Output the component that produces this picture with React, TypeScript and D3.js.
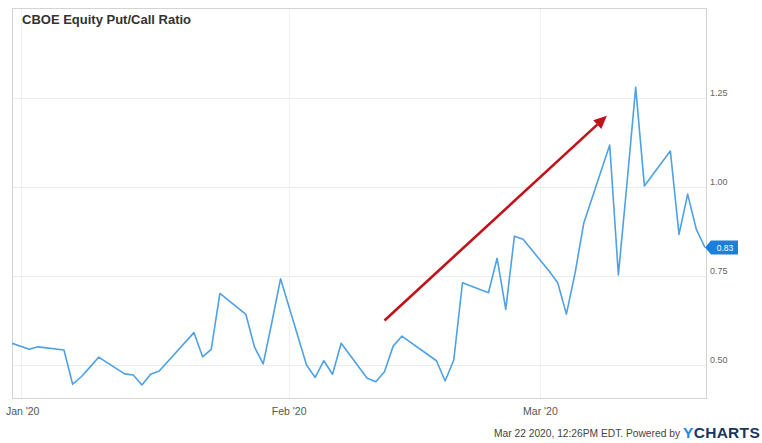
import React from "react";
import * as d3 from "d3";

// trading days Dec 31 2019 -> Mar 20 2020
const dates = [
  "2019-12-31", "2020-01-02", "2020-01-03", "2020-01-06", "2020-01-07", "2020-01-08",
  "2020-01-09", "2020-01-10", "2020-01-13", "2020-01-14", "2020-01-15", "2020-01-16",
  "2020-01-17", "2020-01-21", "2020-01-22", "2020-01-23", "2020-01-24", "2020-01-27",
  "2020-01-28", "2020-01-29", "2020-01-30", "2020-01-31", "2020-02-03", "2020-02-04",
  "2020-02-05", "2020-02-06", "2020-02-07", "2020-02-10", "2020-02-11", "2020-02-12",
  "2020-02-13", "2020-02-14", "2020-02-18", "2020-02-19", "2020-02-20", "2020-02-21",
  "2020-02-24", "2020-02-25", "2020-02-26", "2020-02-27", "2020-02-28", "2020-03-02",
  "2020-03-03", "2020-03-04", "2020-03-05", "2020-03-06", "2020-03-09", "2020-03-10",
  "2020-03-11", "2020-03-12", "2020-03-13", "2020-03-16", "2020-03-17", "2020-03-18",
  "2020-03-19", "2020-03-20",
];

const ratios = [
  0.561, 0.544, 0.551, 0.542, 0.446, 0.467,
  0.494, 0.522, 0.475, 0.472, 0.444, 0.474,
  0.483, 0.591, 0.523, 0.544, 0.701, 0.642,
  0.55, 0.503, 0.62, 0.742, 0.5, 0.465,
  0.512, 0.474, 0.561, 0.463, 0.453, 0.481,
  0.553, 0.581, 0.512, 0.455, 0.514, 0.731,
  0.703, 0.8, 0.656, 0.862, 0.853, 0.764,
  0.731, 0.643, 0.758, 0.898, 1.118, 0.753,
  1.012, 1.28, 1.003, 1.101, 0.867, 0.98,
  0.881, 0.83,
];

const yTicks = [0.5, 0.75, 1.0, 1.25];
const xTickDates = ["2020-01-01", "2020-02-01", "2020-03-01"];
const xTickLabels = ["Jan '20", "Feb '20", "Mar '20"];

// trend arrow, in data terms
const arrowDates = ["2020-02-12T00:00", "2020-03-08T16:00"];
const arrowValues = [0.625, 1.2];

const parse = (s: string) => new Date(s.length > 10 ? s : s + "T00:00");

export default function App() {
  const width = 762;
  const height = 443;
  const frame = { left: 12, top: 8, right: 706, bottom: 398 };

  const x = d3
    .scaleTime()
    .domain([parse(dates[0]), parse(dates[dates.length - 1])])
    .range([frame.left, frame.right - 1]);

  const y = d3
    .scaleLinear()
    .domain([0.4073, 1.5028])
    .range([frame.bottom, frame.top]);

  const points = dates.map((d, i) => ({ date: parse(d), value: ratios[i] }));

  const line = d3
    .line<any>()
    .x((d) => x(d.date))
    .y((d) => y(d.value));

  const last = points[points.length - 1];

  // arrow geometry
  const ax0 = x(parse(arrowDates[0]));
  const ay0 = y(arrowValues[0]);
  const ax1 = x(parse(arrowDates[1]));
  const ay1 = y(arrowValues[1]);
  const ang = Math.atan2(ay1 - ay0, ax1 - ax0);
  const headLen = 13;
  const headW = 6;
  const bx = ax1 - headLen * Math.cos(ang);
  const by = ay1 - headLen * Math.sin(ang);
  const head = [
    [ax1, ay1],
    [bx + headW * Math.sin(ang), by - headW * Math.cos(ang)],
    [bx - headW * Math.sin(ang), by + headW * Math.cos(ang)],
  ];

  const font = "'Liberation Sans', Arial, Helvetica, sans-serif";

  const lastY = y(last.value);

  return (
    <svg
      width={width}
      height={height}
      style={{ position: "absolute", left: 0, top: 0, fontFamily: font }}
    >
      <rect width={width} height={height} fill="#fff" />
      <defs>
        <clipPath id="plot-clip">
          <rect
            x={frame.left}
            y={frame.top}
            width={frame.right - frame.left}
            height={frame.bottom - frame.top}
          />
        </clipPath>
      </defs>

      {/* grid */}
      <g className="grid">
        {yTicks.map((t) => (
          <line
            key={t}
            x1={frame.left}
            x2={frame.right}
            y1={Math.round(y(t)) + 0.5}
            y2={Math.round(y(t)) + 0.5}
            stroke="#ececec"
          />
        ))}
        {xTickDates.map((t) => (
          <line
            key={t}
            x1={Math.round(x(parse(t))) + 0.5}
            x2={Math.round(x(parse(t))) + 0.5}
            y1={frame.top}
            y2={frame.bottom}
            stroke="#f0f0f0"
          />
        ))}
      </g>

      {/* frame */}
      <rect
        x={frame.left + 0.5}
        y={frame.top + 0.5}
        width={frame.right - frame.left}
        height={frame.bottom - frame.top}
        fill="none"
        stroke="#d4d4d4"
      />

      <text x={22} y={24} fontSize={13} fontWeight="bold" fill="#333">
        CBOE Equity Put/Call Ratio
      </text>

      {/* series */}
      <path
        d={line(points) || ""}
        fill="none"
        stroke="#4ea1e4"
        strokeWidth={1.6}
        strokeLinejoin="round"
        clipPath="url(#plot-clip)"
      />

      {/* arrow */}
      <line
        x1={ax0}
        y1={ay0}
        x2={bx}
        y2={by}
        stroke="#c1121a"
        strokeWidth={2.6}
      />
      <polygon points={head.map((p) => p.join(",")).join(" ")} fill="#c1121a" />

      {/* y axis labels */}
      <g fontSize={9} fill="#666">
        {yTicks.map((t) => (
          <text key={t} x={frame.right + 4} y={y(t) - 2}>
            {t.toFixed(2)}
          </text>
        ))}
      </g>

      {/* last value badge */}
      <g>
        <path
          d={`M${frame.right - 1},${lastY} L${frame.right + 5},${lastY - 7} H${frame.right + 32} V${lastY + 7} H${frame.right + 5} Z`}
          fill="#1d7fdc"
        />
        <text
          x={frame.right + 19}
          y={lastY + 3}
          fontSize={8.5}
          fill="#fff"
          textAnchor="middle"
        >
          {last.value.toFixed(2)}
        </text>
      </g>

      {/* x axis labels */}
      <g fontSize={10.5} fill="#555" textAnchor="middle">
        {xTickDates.map((t, i) => (
          <text key={t} x={x(parse(t)) + (i === 0 ? 2 : 0)} y={415}>
            {xTickLabels[i]}
          </text>
        ))}
      </g>

      {/* footer */}
      <text
        x={494}
        y={437}
        fontSize={10}
        fill="#444"
        textLength={186}
        lengthAdjust="spacingAndGlyphs"
      >
        Mar 22 2020, 12:26PM EDT. Powered by
      </text>
      <text x={683} y={438} fontSize={15.5} fontWeight="bold" letterSpacing={0.3}>
        <tspan fill="#1e88e5">Y</tspan>
        <tspan fill="#1a3560">CHARTS</tspan>
      </text>
    </svg>
  );
}
